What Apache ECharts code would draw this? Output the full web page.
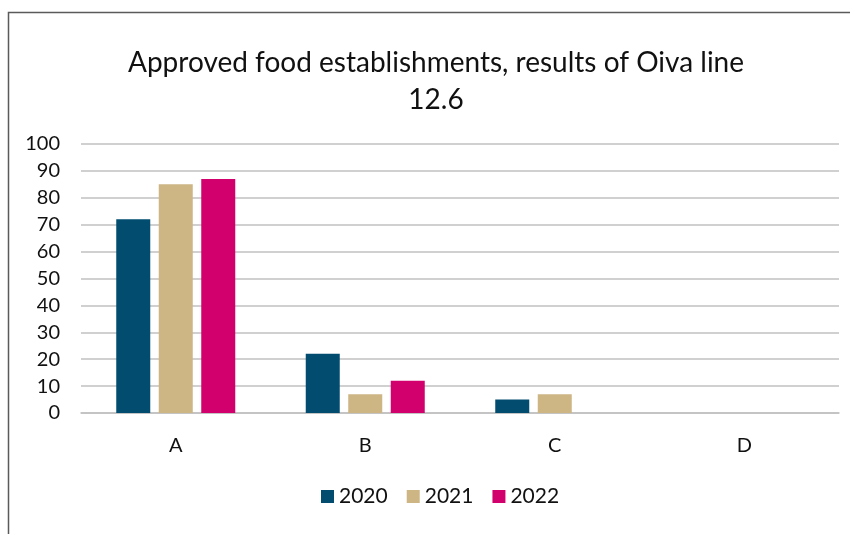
<!DOCTYPE html>
<html>
<head>
<meta charset="utf-8">
<script src="https://cdn.jsdelivr.net/npm/echarts@6/dist/echarts.min.js"></script>
<style>
  html, body { margin: 0; padding: 0; background: #fff; }
  #chart { width: 850px; height: 534px; }
</style>
</head>
<body>
<div id="chart"></div>
<script>
// Categories and per-year values
const categories = ['A', 'B', 'C', 'D'];
const years = ['2020', '2021', '2022'];
const values2020 = [72, 22, 5, 0];
const values2021 = [85, 7, 7, 0];
const values2022 = [87, 12, 0, 0];
const yTicks = [0, 10, 20, 30, 40, 50, 60, 70, 80, 90, 100];
const titleText = 'Approved food establishments, results of Oiva line\n12.6';

const colors = ['#014c6f', '#cdb584', '#d1006d'];
const FONT = 'Lato, "Open Sans", sans-serif';

const seriesValues = [values2020, values2021, values2022];

const chart = echarts.init(document.getElementById('chart'), null, { renderer: 'canvas' });
chart.setOption({
  animation: false,
  textStyle: { fontFamily: FONT },
  graphic: [
    {
      // chart frame: top and left edges
      type: 'polyline',
      shape: { points: [[8.5, 534], [8.5, 12.5], [850, 12.5]] },
      style: { stroke: '#5a5a5a', lineWidth: 1.5, fill: null }
    },
    {
      // two-line title, centred over the chart area
      type: 'text',
      x: 436,
      y: 44,
      style: {
        text: titleText,
        fontFamily: FONT,
        fontSize: 28,
        lineHeight: 37,
        fill: '#111',
        align: 'center',
        verticalAlign: 'top'
      }
    }
  ],
  legend: {
    data: years,
    top: 481,
    left: 316,
    itemWidth: 13,
    itemHeight: 13,
    itemGap: 19,
    icon: 'rect',
    textStyle: { fontFamily: FONT, fontSize: 21, color: '#111' }
  },
  grid: { left: 81, right: 11, top: 144, bottom: 121, containLabel: false },
  xAxis: {
    type: 'category',
    data: categories,
    axisTick: { show: false },
    axisLine: { lineStyle: { color: '#c0c0c0', width: 1.5 } },
    axisLabel: { fontFamily: FONT, fontSize: 20, color: '#111', margin: 23 }
  },
  yAxis: {
    type: 'value',
    min: yTicks[0],
    max: yTicks[yTicks.length - 1],
    interval: 10,
    axisLine: { show: false },
    axisTick: { show: false },
    splitLine: { lineStyle: { color: '#c0c0c0', width: 1.5 } },
    axisLabel: { fontFamily: FONT, fontSize: 20, color: '#111', margin: 21 }
  },
  series: years.map((y, i) => ({
    name: y,
    type: 'bar',
    data: seriesValues[i],
    barWidth: 34,
    barGap: '25%',
    itemStyle: { color: colors[i] }
  }))
});
</script>
</body>
</html>
